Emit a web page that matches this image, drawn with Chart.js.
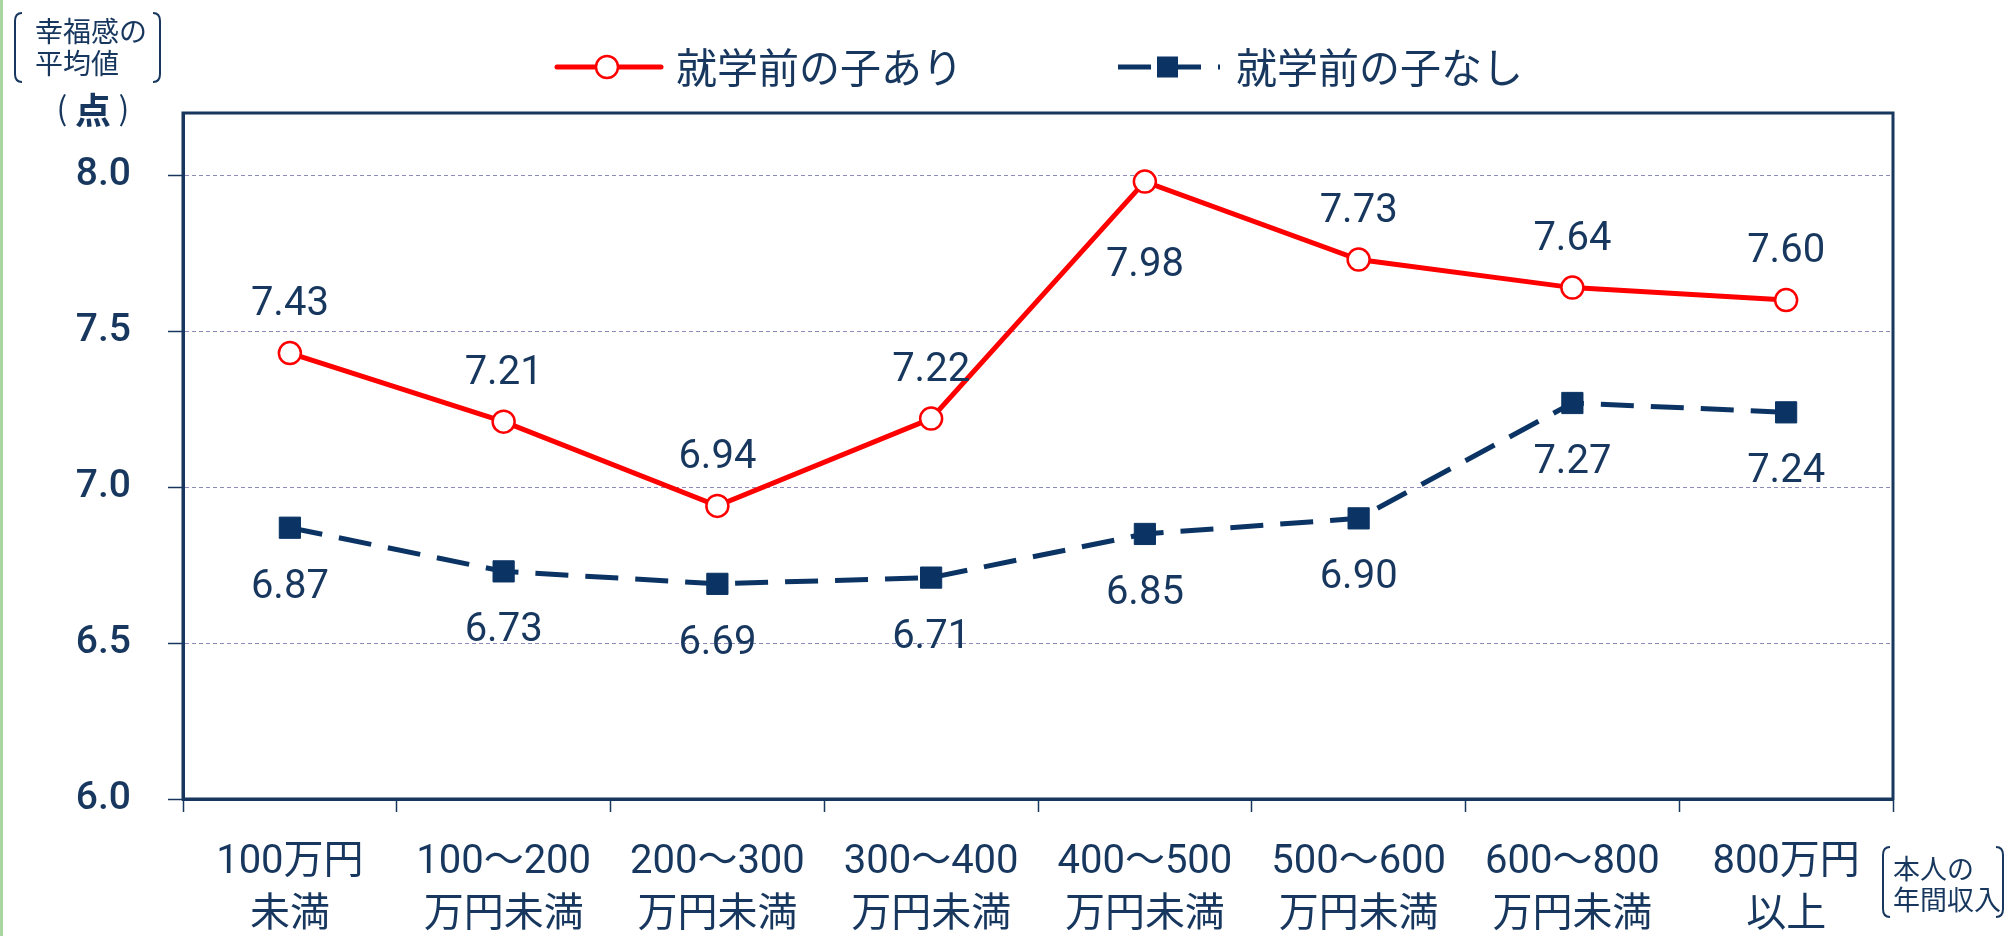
<!DOCTYPE html>
<html>
<head>
<meta charset="utf-8">
<script src="https://cdn.jsdelivr.net/npm/chart.js@4.4.0/dist/chart.umd.min.js"></script>
<style>
  body { margin: 0; background: #fff; }
  canvas { display: block; }
</style>
</head>
<body>
<canvas id="happy" width="2010" height="936"></canvas>
<script>
// 本人の年間収入 categories
const categories = [
  ["100万円", "未満"],
  ["100〜200", "万円未満"],
  ["200〜300", "万円未満"],
  ["300〜400", "万円未満"],
  ["400〜500", "万円未満"],
  ["500〜600", "万円未満"],
  ["600〜800", "万円未満"],
  ["800万円", "以上"]
];
const withKids = [7.43, 7.21, 6.94, 7.22, 7.98, 7.73, 7.64, 7.60];
const withoutKids = [6.87, 6.73, 6.69, 6.71, 6.85, 6.90, 7.27, 7.24];
const yTicks = [6.0, 6.5, 7.0, 7.5, 8.0];
const seriesNames = ["就学前の子あり", "就学前の子なし"];

const NAVY = "#17375e";
const RED = "#ff0000";
const BLUE = "#0b3464";
const JP = "'Noto Sans CJK JP'";
const NUM = "Roboto, 'Noto Sans CJK JP'";

// value labels, brackets, legend, frame
const decor = {
  id: "decor",
  beforeDraw(chart) {
    const c = chart.ctx;
    c.save();
    c.fillStyle = "#a9d6a0";
    c.fillRect(0, 0, 3, chart.height);
    c.restore();
  },
  afterDatasetsDraw(chart) {
    const c = chart.ctx;
    const a = chart.chartArea;
    c.save();
    // plot frame
    c.strokeStyle = NAVY;
    c.lineWidth = 3;
    c.strokeRect(a.left, a.top, a.right - a.left, a.bottom - a.top);

    // value labels
    c.font = "40px " + NUM;
    c.fillStyle = NAVY;
    c.textAlign = "center";
    c.textBaseline = "middle";
    chart.data.datasets.forEach((ds, di) => {
      chart.getDatasetMeta(di).data.forEach((pt, i) => {
        let off = di === 0 ? -48 : 60;
        if (di === 0 && i === 4) off = 84;
        c.fillText(ds.data[i].toFixed(2), pt.x, pt.y + off);
      });
    });

    // brackets
    function bracket(x, y0, y1, dir) {
      c.beginPath();
      c.moveTo(x + 7 * dir, y0);
      c.quadraticCurveTo(x, y0, x, y0 + 8);
      c.lineTo(x, y1 - 8);
      c.quadraticCurveTo(x, y1, x + 7 * dir, y1);
      c.stroke();
    }
    c.strokeStyle = NAVY;
    c.lineWidth = 2;
    bracket(15, 13, 82, 1);
    bracket(160, 13, 82, -1);
    bracket(1883, 847, 917, 1);
    bracket(2003, 847, 917, -1);

    c.textAlign = "left";
    c.font = "28px " + JP;
    c.fillText("幸福感の", 35, 31);
    c.fillText("平均値", 35, 63);
    c.font = "27px " + JP;
    c.fillText("本人の", 1893, 869);
    c.fillText("年間収入", 1893, 900);
    c.textAlign = "center";
    c.font = "32px " + JP;
    c.fillText("(", 62, 108);
    c.fillText(")", 124, 108);
    c.font = "bold 36px " + JP;
    c.fillText("点", 93, 110);

    // legend
    const ly = 67;
    c.lineCap = "round";
    c.strokeStyle = RED;
    c.lineWidth = 5;
    c.beginPath(); c.moveTo(557, ly); c.lineTo(661, ly); c.stroke();
    c.beginPath(); c.arc(607, ly, 11, 0, Math.PI * 2);
    c.fillStyle = "#fff"; c.fill();
    c.lineWidth = 2.5; c.stroke();

    c.lineCap = "butt";
    c.strokeStyle = BLUE;
    c.lineWidth = 5;
    c.setLineDash([33, 17]);
    c.beginPath(); c.moveTo(1118, ly); c.lineTo(1220, ly); c.stroke();
    c.setLineDash([]);
    c.fillStyle = BLUE;
    c.fillRect(1157, ly - 10.5, 21, 21);

    c.fillStyle = NAVY;
    c.textAlign = "left";
    c.font = "41px " + JP;
    c.fillText(seriesNames[0], 676, ly);
    c.fillText(seriesNames[1], 1236, ly);
    c.restore();
  }
};

new Chart(document.getElementById("happy").getContext("2d"), {
  type: "line",
  data: {
    labels: categories,
    datasets: [
      {
        label: seriesNames[0],
        data: withKids,
        borderColor: RED,
        borderWidth: 5,
        tension: 0,
        pointStyle: "circle",
        pointRadius: 11,
        pointBorderWidth: 2.5,
        pointBackgroundColor: "#fff",
        pointBorderColor: RED
      },
      {
        label: seriesNames[1],
        data: withoutKids,
        borderColor: BLUE,
        borderWidth: 5,
        borderDash: [33, 17],
        tension: 0,
        pointStyle: "rect",
        pointRadius: 15,
        pointBorderWidth: 1,
        pointBackgroundColor: BLUE,
        pointBorderColor: BLUE
      }
    ]
  },
  options: {
    responsive: false,
    animation: false,
    layout: { padding: { left: 0, right: 117, top: 113, bottom: 0 } },
    plugins: { legend: { display: false }, tooltip: { enabled: false } },
    scales: {
      x: {
        offset: true,
        grid: {
          offset: true,
          drawOnChartArea: false,
          tickLength: 13,
          tickColor: NAVY,
          tickWidth: 1.5
        },
        border: { color: NAVY, width: 3 },
        ticks: {
          color: NAVY,
          font: { family: NUM, size: 40, lineHeight: 1.32 },
          padding: 25,
          maxRotation: 0,
          autoSkip: false
        },
        afterFit(s) { s.height = 137; }
      },
      y: {
        min: 6.0,
        max: 8.2,
        afterBuildTicks(s) { s.ticks = yTicks.map(v => ({ value: v })); },
        grid: {
          color: "#8b8bbb",
          lineWidth: 1,
          tickLength: 15,
          tickColor: NAVY,
          tickWidth: 1.5
        },
        border: { color: NAVY, width: 3, dash: [4, 3] },
        ticks: {
          color: NAVY,
          font: { family: NUM, size: 39, weight: "500" },
          padding: 37,
          callback: v => v.toFixed(1)
        },
        afterFit(s) { s.width = 183; }
      }
    }
  },
  plugins: [decor]
});
</script>
</body>
</html>
